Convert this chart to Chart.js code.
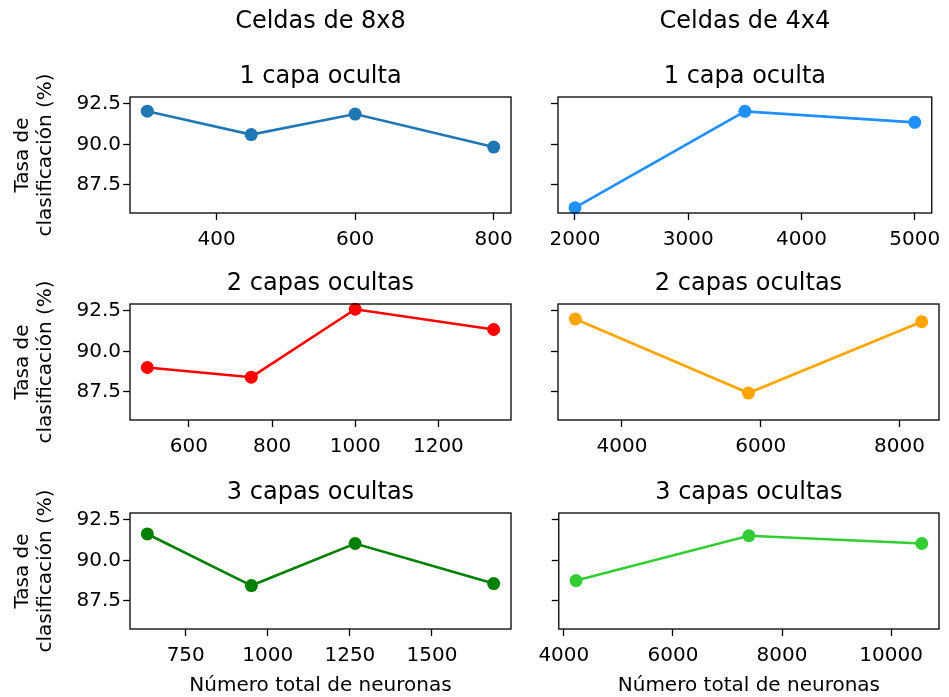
<!DOCTYPE html>
<html>
<head>
<meta charset="utf-8">
<script src="https://cdn.jsdelivr.net/npm/chart.js@4"></script>
<style>
  html, body { margin: 0; padding: 0; background: #fff; overflow: hidden; }
  #fig { position: relative; width: 949px; height: 697px; }
  canvas { position: absolute; }
</style>
</head>
<body>
<div id="fig">
  <canvas id="c8_1" width="530" height="249" style="left:0px;top:0px"></canvas>
  <canvas id="c4_1" width="419" height="249" style="left:530px;top:0px"></canvas>
  <canvas id="c8_2" width="530" height="192" style="left:0px;top:264px"></canvas>
  <canvas id="c4_2" width="419" height="192" style="left:530px;top:264px"></canvas>
  <canvas id="c8_3" width="530" height="224" style="left:0px;top:473px"></canvas>
  <canvas id="c4_3" width="419" height="224" style="left:530px;top:473px"></canvas>
</div>
<script>
// column and row titles
var columnTitles = ['Celdas de 8x8', 'Celdas de 4x4'];
var rowTitles = ['1 capa oculta', '2 capas ocultas', '3 capas ocultas'];
var yLabel = ['Tasa de', 'clasificación (%)'];
var xLabel = 'Número total de neuronas';

// total neurons (x) and classification rate (y), celdas 8x8
var x8_1 = [300, 450, 600, 800];
var y8_1 = [92.05, 90.6, 91.87, 89.83];
var x8_2 = [500, 750, 1000, 1333];
var y8_2 = [89.0, 88.4, 92.6, 91.35];
var x8_3 = [633, 950, 1266, 1688];
var y8_3 = [91.63, 88.44, 91.04, 88.56];

// celdas 4x4
var x4_1 = [2000, 3500, 5000];
var y4_1 = [86.08, 92.04, 91.36];
var x4_2 = [3328, 5824, 8320];
var y4_2 = [92.0, 87.42, 91.83];
var x4_3 = [4224, 7392, 10560];
var y4_3 = [88.75, 91.52, 91.04];

// tick labels
var xt8_1 = [400, 600, 800];
var xt8_2 = [600, 800, 1000, 1200];
var xt8_3 = [750, 1000, 1250, 1500];
var xt4_1 = [2000, 3000, 4000, 5000];
var xt4_2 = [4000, 6000, 8000];
var xt4_3 = [4000, 6000, 8000, 10000];
var yTicks = [87.5, 90.0, 92.5];

var colors8 = ['#1f77b4', 'red', 'green'];
var colors4 = ['dodgerblue', 'orange', 'limegreen'];

Chart.defaults.font.family = 'DejaVu Sans';
Chart.defaults.color = '#000';

// shared y limits with 5% margin, like matplotlib sharey
var allY = y8_1.concat(y8_2, y8_3, y4_1, y4_2, y4_3);
var yMin = Math.min.apply(null, allY), yMax = Math.max.apply(null, allY);
var yPad = (yMax - yMin) * 0.05;

var frame = {
    id: 'frame',
    afterDraw: function (chart) {
        var a = chart.chartArea, ctx = chart.ctx;
        ctx.save();
        ctx.strokeStyle = '#000';
        ctx.lineWidth = 1.3;
        ctx.strokeRect(a.left, a.top, a.right - a.left, a.bottom - a.top);
        ctx.restore();
    }
};

function makeChart(id, xs, ys, xticks, color, row, col) {
    var pts = [];
    for (var i = 0; i < xs.length; i++) {
        pts.push({x: xs[i], y: ys[i]});
    }
    var xPad = (xs[xs.length - 1] - xs[0]) * 0.05;
    var left = col == 0;
    var last = row == 2;
    var titleFont = {size: 24, weight: 'normal', lineHeight: 1.2};

    var plugins = {
        legend: {display: false},
        tooltip: {enabled: false},
        title: {
            display: true, fullSize: false, font: titleFont, color: '#000',
            text: row == 0 ? columnTitles[col] : rowTitles[row],
            padding: row == 0 ? {top: 7.5, bottom: 0} : {top: 5, bottom: 6.2}
        },
        subtitle: {
            display: row == 0, fullSize: false, font: titleFont, color: '#000',
            text: rowTitles[0],
            padding: {top: 25.8, bottom: 6.1}
        }
    };

    var cfg = {
        type: 'line',
        data: {
            datasets: [{
                data: pts,
                borderColor: color,
                backgroundColor: color,
                borderWidth: 2.6,
                pointRadius: 6.5,
                pointHoverRadius: 6.5,
                pointBorderWidth: 0,
                pointBackgroundColor: color,
                tension: 0,
                clip: false
            }]
        },
        plugins: [frame],
        options: {
            responsive: false,
            animation: false,
            devicePixelRatio: 1,
            events: [],
            layout: {padding: {left: 0, right: left ? 19 : 10, top: 0, bottom: 0}},
            plugins: plugins,
            scales: {
                x: {
                    type: 'linear',
                    min: xs[0] - xPad,
                    max: xs[xs.length - 1] + xPad,
                    afterBuildTicks: function (s) { s.ticks = xticks.map(function (v) { return {value: v}; }); },
                    afterFit: function (s) { s.height = last ? 68 : 36; },
                    grid: {drawOnChartArea: false, drawTicks: true, tickLength: 7, tickWidth: 1.3, tickColor: '#000'},
                    border: {display: false},
                    ticks: {font: {size: 20}, padding: 8, maxRotation: 0, autoSkip: false,
                            callback: function (v) { return String(v); }},
                    title: {display: last, text: xLabel, font: {size: 20, lineHeight: 1.15}, padding: {top: 0, bottom: 0}}
                },
                y: {
                    type: 'linear',
                    min: yMin - yPad,
                    max: yMax + yPad,
                    afterBuildTicks: function (s) { s.ticks = yTicks.map(function (v) { return {value: v}; }); },
                    afterFit: function (s) { s.width = left ? 130 : 28; },
                    grid: {drawOnChartArea: false, drawTicks: true, tickLength: 7, tickWidth: 1.3, tickColor: '#000'},
                    border: {display: false},
                    ticks: {display: left, font: {size: 20}, padding: 2,
                            callback: function (v) { return v.toFixed(1); }},
                    title: {display: left, text: yLabel, font: {size: 20, lineHeight: 1.15}, padding: {top: 11, bottom: 0}}
                }
            }
        }
    };
    return new Chart(document.getElementById(id).getContext('2d'), cfg);
}

makeChart('c8_1', x8_1, y8_1, xt8_1, colors8[0], 0, 0);
makeChart('c4_1', x4_1, y4_1, xt4_1, colors4[0], 0, 1);
makeChart('c8_2', x8_2, y8_2, xt8_2, colors8[1], 1, 0);
makeChart('c4_2', x4_2, y4_2, xt4_2, colors4[1], 1, 1);
makeChart('c8_3', x8_3, y8_3, xt8_3, colors8[2], 2, 0);
makeChart('c4_3', x4_3, y4_3, xt4_3, colors4[2], 2, 1);
</script>
</body>
</html>
